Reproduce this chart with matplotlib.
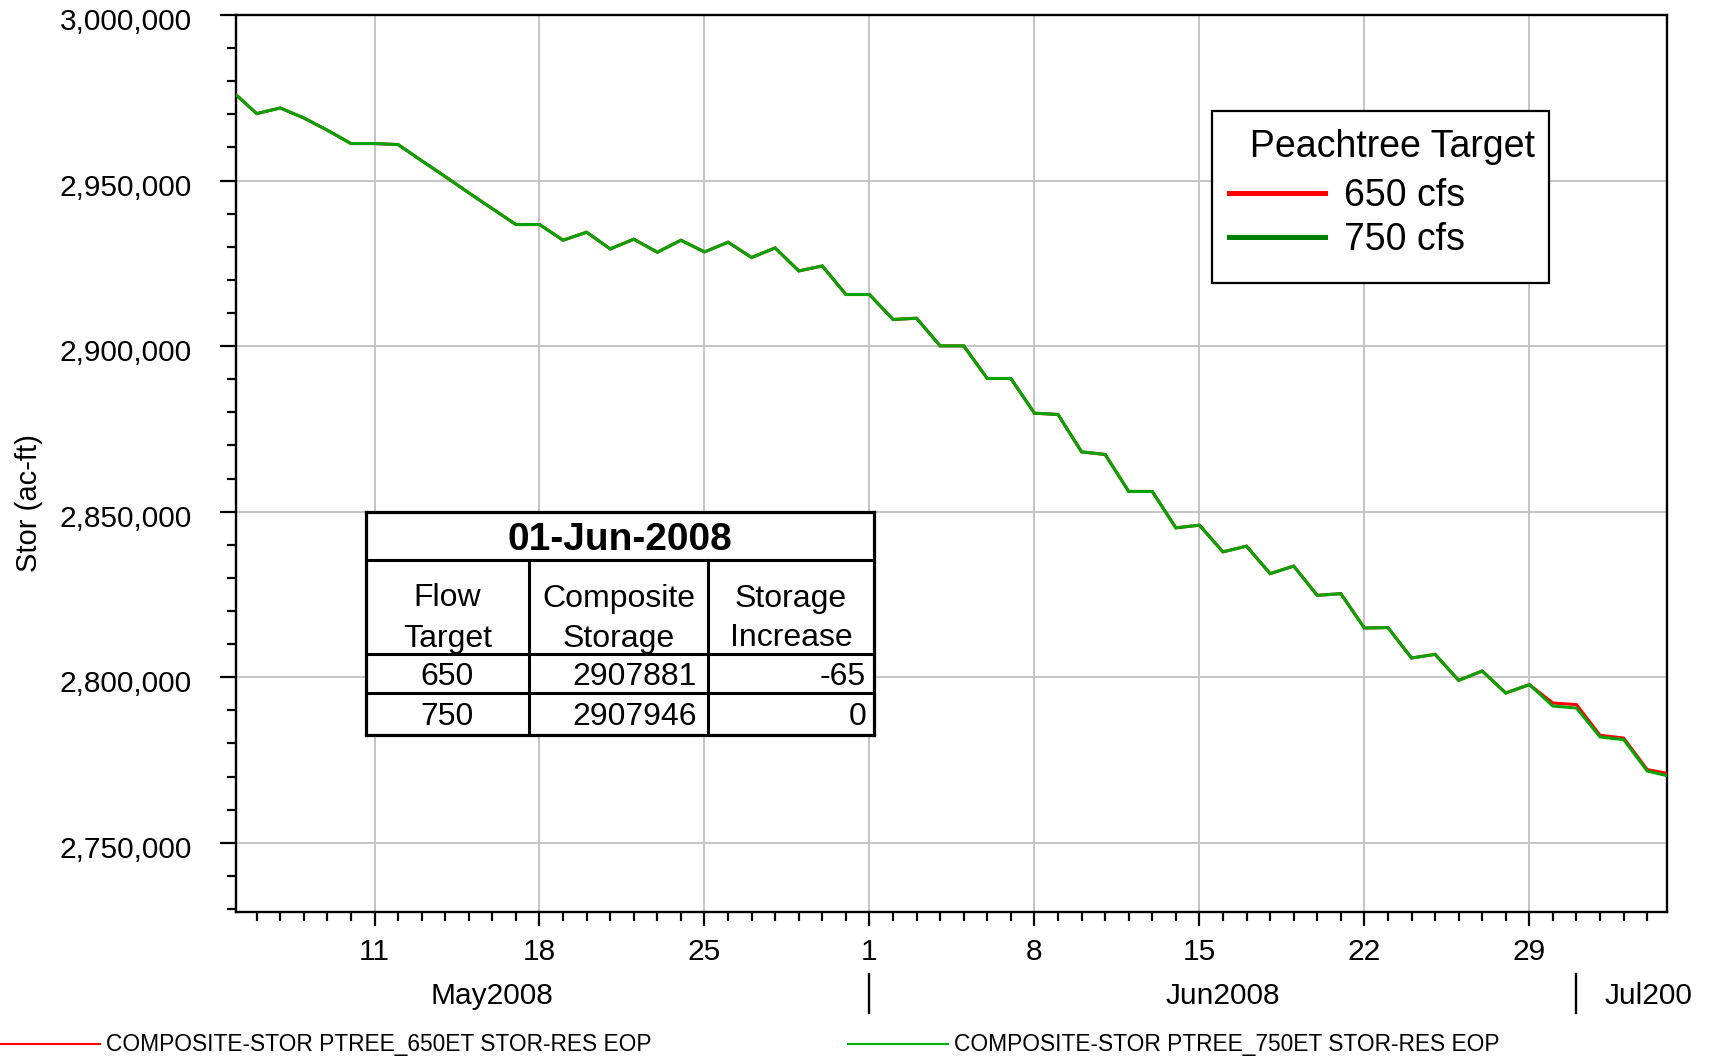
import datetime as dt
import matplotlib
matplotlib.use("Agg")
import matplotlib.pyplot as plt
import matplotlib.dates as mdates
import matplotlib.ticker as mticker
import matplotlib.transforms as mtransforms
from matplotlib.lines import Line2D
from matplotlib.patches import Rectangle

plt.rcParams['font.family'] = ['Liberation Sans', 'DejaVu Sans']

# ---------------- data ----------------
start_date = dt.datetime(2008, 5, 5)
stor_750 = [
    2976700, 2970230, 2971920, 2968900, 2965200, 2961180, 2961180, 2960870,
    2956000, 2951200, 2946300, 2941500, 2936720, 2936720, 2931980, 2934400,
    2929360, 2932290, 2928360, 2931980, 2928450, 2931380, 2926760, 2929660,
    2922710, 2924220, 2915590,
    2915590, 2908040, 2908430, 2900070, 2900070, 2890230, 2890230, 2879750,
    2879360, 2868070, 2867280, 2856110, 2856110, 2845120, 2845930, 2837870,
    2839590, 2831290, 2833580, 2824740, 2825250, 2814870, 2815000, 2805810,
    2806920, 2799070, 2801880, 2795240, 2797780, 2791310,
    2790710, 2781960, 2781170, 2771690, 2770020,
]
stor_650 = [
    2976700, 2970230, 2971920, 2968900, 2965200, 2961180, 2961180, 2960870,
    2956000, 2951200, 2946300, 2941500, 2936720, 2936720, 2931980, 2934400,
    2929360, 2932290, 2928360, 2931980, 2928450, 2931380, 2926760, 2929660,
    2922710, 2924220, 2915590,
    2915590, 2908040, 2908430, 2900070, 2900070, 2890230, 2890230, 2879750,
    2879360, 2868070, 2867280, 2856110, 2856110, 2845120, 2845930, 2837870,
    2839590, 2831290, 2833580, 2824740, 2825250, 2814870, 2815000, 2805810,
    2806920, 2799070, 2801880, 2795240, 2797780, 2792220,
    2791740, 2782470, 2781650, 2772110, 2770790,
]
dates = [start_date + dt.timedelta(days=i) for i in range(len(stor_750))]

legend_title = "Peachtree Target"
legend_labels = ["650 cfs", "750 cfs"]
series_names = ["COMPOSITE-STOR PTREE_650ET STOR-RES EOP",
                "COMPOSITE-STOR PTREE_750ET STOR-RES EOP"]
month_labels = ["May2008", "Jun2008", "Jul2008"]

table_title = "01-Jun-2008"
table_header = [["Flow", "Target"], ["Composite", "Storage"], ["Storage", "Increase"]]
table_flow = ["650", "750"]
table_storage = ["2907881", "2907946"]
table_increase = ["-65", "0"]

# ---------------- figure ----------------
W, H = 1712, 1058
fig = plt.figure(figsize=(W / 100, H / 100), dpi=100)
ax_l, ax_r, ax_t, ax_b = 235.7, 1667.0, 15.0, 911.7
ax = fig.add_axes([ax_l / W, 1 - ax_b / H, (ax_r - ax_l) / W, (ax_b - ax_t) / H])
axw = ax_r - ax_l
axh = ax_b - ax_t

RED = "#ff0000"
GREEN = "#00a400"
ax.plot(dates, stor_650, color=RED, lw=2.2, zorder=3, solid_joinstyle='miter')
ax.plot(dates, stor_750, color=GREEN, lw=2.2, zorder=4, solid_joinstyle='miter')

x0 = mdates.date2num(dt.datetime(2008, 5, 5)) + 0.11
x1 = mdates.date2num(dt.datetime(2008, 7, 4)) + 0.84
ax.set_xlim(x0, x1)
ax.set_ylim(2729200, 3000000)

# y axis
ax.yaxis.set_major_locator(mticker.MultipleLocator(50000))
ax.yaxis.set_minor_locator(mticker.MultipleLocator(10000))
ax.yaxis.set_major_formatter(mticker.FuncFormatter(lambda v, p: f"{int(round(v)):,}"))
ax.tick_params(axis='y', which='major', direction='out', length=11.5, width=1.6,
               labelsize=21.5, pad=20)
ax.tick_params(axis='y', which='minor', direction='out', length=6.5, width=1.6)

# x axis
ax.xaxis.set_major_locator(mdates.WeekdayLocator(byweekday=mdates.SU))
ax.xaxis.set_minor_locator(mdates.DayLocator())
ax.xaxis.set_major_formatter(mticker.FuncFormatter(lambda v, p: str(mdates.num2date(v).day)))
ax.tick_params(axis='x', which='major', direction='out', length=10, width=1.6,
               labelsize=21.5, pad=9)
ax.tick_params(axis='x', which='minor', direction='out', length=6.5, width=1.6)

for s in ax.spines.values():
    s.set_linewidth(1.7)
    s.set_color('black')

ax.grid(True, which='major', color='#c4c4c4', lw=1.4, zorder=0)
ax.set_axisbelow(True)

# month labels and separators
trans = mtransforms.blended_transform_factory(ax.transData, ax.transAxes)
sep_y0 = (ax_b - 974) / axh
sep_y1 = (ax_b - 1013) / axh
lab_y = (ax_b - 996.5) / axh
for m in [dt.datetime(2008, 6, 1), dt.datetime(2008, 7, 1)]:
    ax.plot([m, m], [sep_y0, sep_y1], transform=trans, color='black', lw=1.7, clip_on=False)
ax.text(dt.datetime(2008, 5, 16), lab_y, month_labels[0], transform=trans,
        ha='center', va='center', fontsize=21.5)
ax.text(dt.datetime(2008, 6, 16), lab_y, month_labels[1], transform=trans,
        ha='center', va='center', fontsize=21.5)
jul = ax.text(dt.datetime(2008, 7, 2, 5), lab_y, month_labels[2], transform=trans,
              ha='left', va='center', fontsize=21.5)
jul.set_clip_on(True)
jul.set_clip_box(mtransforms.TransformedBbox(
    mtransforms.Bbox.from_extents(0, 0, 1692 / W, 1), fig.transFigure))

# y label
fig.text(29 / W, 1 - 503 / H, "Stor (ac-ft)", rotation=90, ha='center', va='center',
         fontsize=21)

# main legend (frame drawn as a rectangle to match the original box)
bx0, bx1, by0, by1 = 1212.3, 1549.0, 110.7, 283.3
ax.add_patch(Rectangle(((bx0 - ax_l) / axw, (ax_b - by1) / axh),
                       (bx1 - bx0) / axw, (by1 - by0) / axh, transform=ax.transAxes,
                       facecolor='white', edgecolor='black', lw=1.6, zorder=9,
                       clip_on=False))
handles = [Line2D([], [], color=RED, lw=3.6), Line2D([], [], color="#008000", lw=3.6)]
leg = ax.legend(handles, legend_labels, title="  " + legend_title, loc='upper left',
                bbox_to_anchor=((bx0 - ax_l) / axw, (ax_b - by0 - 1) / axh),
                borderaxespad=0, fontsize=27, title_fontsize=27,
                handlelength=2.55, handletextpad=0.5, borderpad=0.45,
                labelspacing=0.22, alignment='left', frameon=False)
leg._legend_box.sep = leg._legend_box.sep + 3.5
leg.set_zorder(10)

# table
tl, tr, tt, tb = 365.5, 874.0, 511.7, 735.0
tax = fig.add_axes([tl / W, 1 - tb / H, (tr - tl) / W, (tb - tt) / H])
tax.set_xlim(tl, tr)
tax.set_ylim(tb, tt)
tax.set_facecolor('white')
for sp in tax.spines.values():
    sp.set_linewidth(2.3)
    sp.set_color('black')
tax.set_xticks([])
tax.set_yticks([])
col_x = [tl, 529.0, 708.0, tr]
row_y = [tt, 560.0, 654.3, 692.7, tb]
lw_t = 2.2
tax.plot([tl, tr], [row_y[1], row_y[1]], color='black', lw=lw_t)
tax.plot([tl, tr], [row_y[2], row_y[2]], color='black', lw=lw_t)
tax.plot([tl, tr], [row_y[3], row_y[3]], color='black', lw=lw_t)
for cx in col_x[1:3]:
    tax.plot([cx, cx], [row_y[1], tb], color='black', lw=lw_t)
tax.text((tl + tr) / 2, (row_y[0] + row_y[1]) / 2 + 4, table_title, ha='center',
         va='center', fontsize=28, fontweight='bold')
for i, (l1, l2) in enumerate(table_header):
    cxm = (col_x[i] + col_x[i + 1]) / 2
    tax.text(cxm, 598.5, l1, ha='center', va='center', fontsize=23)
    tax.text(cxm, 638.5, l2, ha='center', va='center', fontsize=23)
for r in range(2):
    cy = (row_y[2 + r] + row_y[3 + r]) / 2 + 3.5
    tax.text((col_x[0] + col_x[1]) / 2, cy, table_flow[r], ha='center', va='center',
             fontsize=23)
    tax.text(col_x[2] - 11, cy, table_storage[r], ha='right', va='center', fontsize=23)
    tax.text(col_x[3] - 8, cy, table_increase[r], ha='right', va='center', fontsize=23)

# bottom series legend
bh = [Line2D([], [], color=RED, lw=1.5), Line2D([], [], color="#00b000", lw=1.5)]
fig.legend(bh, series_names, loc='center left', bbox_to_anchor=(0, 1 - 1045 / H),
           ncol=2, frameon=False, fontsize=16.4, handlelength=4.4, handletextpad=0.26,
           columnspacing=8.6, borderpad=0, borderaxespad=0)

# y tick labels sit slightly below their ticks in the original
off = mtransforms.ScaledTranslation(0, -4 / 100, fig.dpi_scale_trans)
for lab in ax.yaxis.get_majorticklabels():
    lab.set_transform(lab.get_transform() + off)

fig.savefig("out.png", dpi=100)
